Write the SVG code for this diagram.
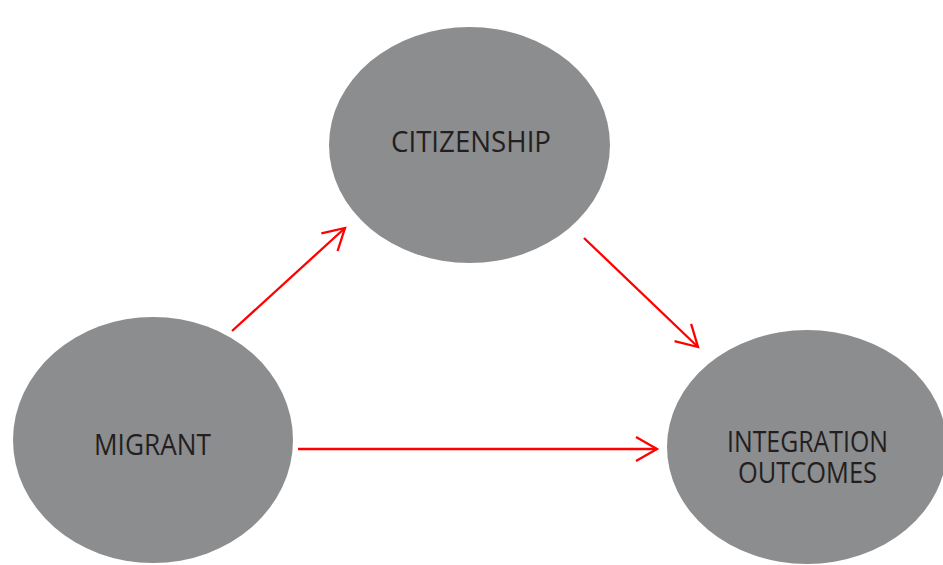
<svg xmlns="http://www.w3.org/2000/svg" width="943" height="565" viewBox="0 0 943 565">
<defs>
<style>
.node{fill:#8c8d8f}
.lbl{font-family:"Open Sans","Liberation Sans",sans-serif;font-size:29px;fill:#231f20;text-anchor:middle}
.conn{stroke:#ff0000;stroke-width:2.3;fill:none;marker-end:url(#ah)}
</style>
<marker id="ah" markerUnits="userSpaceOnUse" markerWidth="30" markerHeight="30" viewBox="-26 -15 30 30" refX="0" refY="0" orient="auto">
<path d="M-21,-12 L0,0 L-21,12" fill="none" stroke="#ff0000" stroke-width="2.3"/>
</marker>
</defs>
<rect width="943" height="565" fill="#ffffff"/>
<g id="citizenship">
<ellipse class="node" cx="469.5" cy="145" rx="140.5" ry="118"/>
<text class="lbl" x="471" y="152" textLength="160" lengthAdjust="spacingAndGlyphs">CITIZENSHIP</text>
</g>
<g id="migrant">
<ellipse class="node" cx="153" cy="440" rx="140" ry="123"/>
<text class="lbl" x="152.5" y="455" textLength="117" lengthAdjust="spacingAndGlyphs">MIGRANT</text>
</g>
<g id="integration-outcomes">
<ellipse class="node" cx="807" cy="447" rx="140" ry="117"/>
<text class="lbl" x="807.5" y="452" textLength="161" lengthAdjust="spacingAndGlyphs">INTEGRATION</text>
<text class="lbl" x="807.5" y="483" textLength="139" lengthAdjust="spacingAndGlyphs">OUTCOMES</text>
</g>
<g id="connectors">
<line class="conn" x1="232" y1="331" x2="345" y2="228"/>
<line class="conn" x1="584" y1="238" x2="698" y2="347"/>
<line class="conn" x1="298" y1="449" x2="657" y2="449"/>
</g>
</svg>
